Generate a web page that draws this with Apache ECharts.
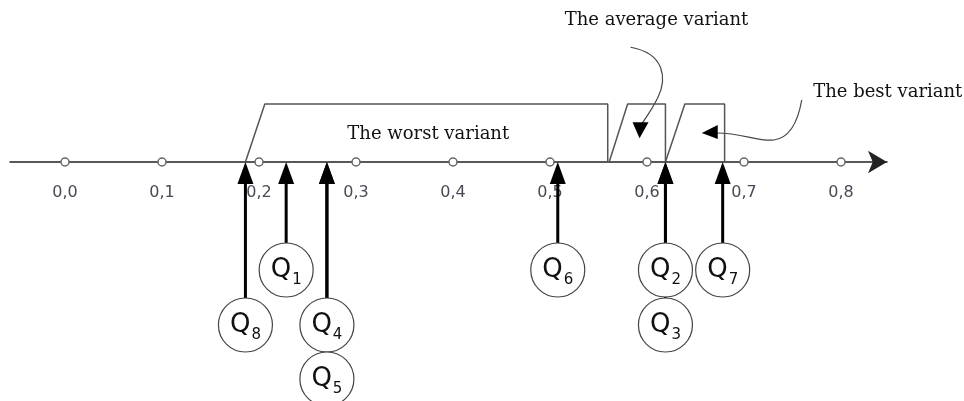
<!DOCTYPE html>
<html>
<head>
<meta charset="utf-8">
<script src="https://cdn.jsdelivr.net/npm/echarts@6/dist/echarts.min.js"></script>
<style>
  html, body { margin: 0; padding: 0; background: #fff; }
  #chart-container { width: 964px; height: 401px; }
</style>
</head>
<body>
<div id="chart-container"></div>
<script>
// scale ticks
var tickValues = [0.0, 0.1, 0.2, 0.3, 0.4, 0.5, 0.6, 0.7, 0.8];
var tickLabels = ['0,0', '0,1', '0,2', '0,3', '0,4', '0,5', '0,6', '0,7', '0,8'];

// fuzzy variants (trapezoids): start at 0, reach 1 at peak, drop at end
var variantNames = ['The worst variant', 'The average variant', 'The best variant'];
var variantStart = [0.186, 0.561, 0.619];
var variantPeak = [0.206, 0.580, 0.639];
var variantEnd = [0.5595, 0.619, 0.680];

// alternatives
var altNames = ['Q1', 'Q2', 'Q3', 'Q4', 'Q5', 'Q6', 'Q7', 'Q8'];
var altValues = [0.228, 0.619, 0.619, 0.270, 0.270, 0.508, 0.678, 0.186];

// layout (pixel-like y units, axis at 0)
var TOP = 58;
var ROW_Y = [-108, -163, -217];
var R = 27;
var altRow = { Q3: 1, Q4: 1, Q5: 2, Q8: 1 };

var dom = document.getElementById('chart-container');
var myChart = echarts.init(dom, null, { renderer: 'canvas' });

var lineColor = '#555';

var series = [];

variantNames.forEach(function (name, i) {
  series.push({
    name: name,
    type: 'line',
    symbol: 'none',
    silent: true,
    animation: false,
    lineStyle: { color: lineColor, width: 1.5 },
    data: [
      [variantStart[i], 0],
      [variantPeak[i], TOP],
      [variantEnd[i], TOP],
      [variantEnd[i], 0]
    ],
    z: 3
  });
});

// tick markers with labels
series.push({
  type: 'scatter',
  symbol: 'circle',
  symbolSize: 8,
  silent: true,
  animation: false,
  clip: false,
  itemStyle: { color: '#fff', borderColor: '#666', borderWidth: 1.5, opacity: 1 },
  label: {
    show: true,
    position: 'bottom',
    distance: 18,
    fontFamily: 'DejaVu Sans',
    fontSize: 16,
    color: '#4a4a55',
    formatter: function (p) { return tickLabels[p.dataIndex]; }
  },
  data: tickValues.map(function (v) { return [v, 0]; }),
  z: 4
});

// arrows from circles up to the axis
series.push({
  type: 'custom',
  silent: true,
  animation: false,
  clip: false,
  renderItem: function (params, api) {
    var from = api.coord([api.value(0), api.value(1)]);
    var tip = api.coord([api.value(0), 0]);
    var headLen = 22, headW = 8;
    return {
      type: 'group',
      children: [
        {
          type: 'line',
          shape: { x1: from[0], y1: from[1], x2: tip[0], y2: tip[1] + headLen - 2 },
          style: { stroke: '#000', lineWidth: 3 }
        },
        {
          type: 'polygon',
          shape: { points: [[tip[0], tip[1]], [tip[0] - headW, tip[1] + headLen], [tip[0] + headW, tip[1] + headLen]] },
          style: { fill: '#000' }
        }
      ]
    };
  },
  data: altNames.map(function (n, i) {
    var row = altRow[n] || 0;
    return [altValues[i], ROW_Y[row] + R];
  }),
  z: 5
});

// alternative circles
series.push({
  type: 'scatter',
  symbol: 'circle',
  symbolSize: 2 * R,
  silent: true,
  animation: false,
  clip: false,
  itemStyle: { color: '#fff', borderColor: '#444', borderWidth: 1.2, opacity: 1 },
  label: {
    show: true,
    position: 'inside',
    formatter: function (p) {
      return '{q|Q}{s|' + altNames[p.dataIndex].slice(1) + '}';
    },
    rich: {
      q: { fontFamily: 'DejaVu Sans', fontSize: 26, color: '#111' },
      s: { fontFamily: 'DejaVu Sans', fontSize: 15, color: '#111', padding: [20, 0, 0, 1] }
    }
  },
  data: altNames.map(function (n, i) {
    var row = altRow[n] || 0;
    return [altValues[i], ROW_Y[row]];
  }),
  z: 6
});

var option = {
  animation: false,
  backgroundColor: '#fff',
  grid: { left: 10, right: 77, top: 0, bottom: 0 },
  xAxis: {
    type: 'value',
    min: -0.0567,
    max: 0.8474,
    axisLine: {
      show: true,
      onZero: true,
      symbol: ['none', 'arrow'],
      symbolSize: [17, 19],
      lineStyle: { color: '#222', width: 1.5 }
    },
    axisTick: { show: false },
    axisLabel: { show: false },
    splitLine: { show: false }
  },
  yAxis: {
    type: 'value',
    show: false,
    min: -239,
    max: 162,
    splitLine: { show: false }
  },
  series: series
};

myChart.setOption(option);

// annotations, anchored to the variants
function px(v, y) { return myChart.convertToPixel({ gridIndex: 0 }, [v, y]); }
var avgTip = px((variantPeak[1] + variantEnd[1]) / 2, TOP * 0.41);
avgTip[0] -= 7;
var bestTip = px((variantPeak[2] + variantEnd[2]) / 2, TOP / 2);
bestTip[0] -= 3;
var worstMid = px((variantPeak[0] + variantEnd[0]) / 2, TOP / 2);

var serifFont = '18px "DejaVu Serif"';
var curveStyle = { stroke: '#444', lineWidth: 1.2, fill: 'none' };

function curve(o, seg) {
  return {
    type: 'bezierCurve',
    x: o[0], y: o[1],
    shape: { x1: seg[0], y1: seg[1], cpx1: seg[2], cpy1: seg[3], cpx2: seg[4], cpy2: seg[5], x2: seg[6], y2: seg[7] },
    style: curveStyle
  };
}

var graphic = [
  {
    type: 'text',
    x: worstMid[0] - 8, y: worstMid[1] + 1,
    style: { text: variantNames[0], font: serifFont, fill: '#111', align: 'center', verticalAlign: 'middle' }
  },
  curve(avgTip, [-9, -91, 25, -85, 28, -60, 18, -40]),
  curve(avgTip, [18, -40, 12, -28, 6, -20, 2, -14]),
  {
    type: 'polygon',
    x: avgTip[0], y: avgTip[1],
    shape: { points: [[0, 0], [-7, -16], [9, -16]] },
    style: { fill: '#000' }
  },
  {
    type: 'text',
    x: avgTip[0] + 17, y: avgTip[1] - 118,
    style: { text: variantNames[1], font: serifFont, fill: '#111', align: 'center', verticalAlign: 'middle' }
  },
  curve(bestTip, [100, -33, 96, -10, 88, 5, 72, 7]),
  curve(bestTip, [72, 7, 58, 9, 40, 0, 15, 0]),
  {
    type: 'polygon',
    x: bestTip[0], y: bestTip[1],
    shape: { points: [[0, 0], [16, -8], [16, 6]] },
    style: { fill: '#000' }
  },
  {
    type: 'text',
    x: bestTip[0] + 186, y: bestTip[1] - 41,
    style: { text: variantNames[2], font: serifFont, fill: '#111', align: 'center', verticalAlign: 'middle' }
  }
];

myChart.setOption({ graphic: graphic });

window.addEventListener('resize', function () {
  myChart.resize();
});
</script>
</body>
</html>
